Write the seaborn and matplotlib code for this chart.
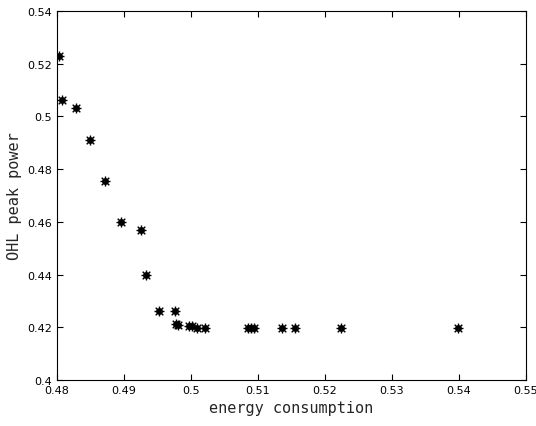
import numpy as np
import pandas as pd
import matplotlib
matplotlib.use("Agg")
import matplotlib.pyplot as plt
import seaborn as sns

# values
energy = [0.4803, 0.4807, 0.4828, 0.4849, 0.4872, 0.4896, 0.4926, 0.4933,
          0.4952, 0.4976, 0.4978, 0.4980, 0.4997, 0.5001, 0.5009, 0.5021,
          0.5085, 0.5090, 0.5094, 0.5136, 0.5155, 0.5224, 0.5399]
peak = [0.5228, 0.5063, 0.5033, 0.4910, 0.4754, 0.4601, 0.4570, 0.4398,
        0.4260, 0.4260, 0.4214, 0.4208, 0.4205, 0.4204, 0.4199, 0.4198,
        0.4196, 0.4196, 0.4196, 0.4196, 0.4196, 0.4196, 0.4196]
xticks = [0.48, 0.49, 0.5, 0.51, 0.52, 0.53, 0.54, 0.55]
yticks = [0.4, 0.42, 0.44, 0.46, 0.48, 0.5, 0.52, 0.54]

df = pd.DataFrame({"energy": energy, "peak": peak})

sns.set_style("ticks")
fig = plt.figure(figsize=(5.36, 4.27), dpi=100)
ax = fig.add_axes([0.1063, 0.1077, 0.875, 0.8642])

# matlab-ish '*' markers: a round blob with short spikes
sns.scatterplot(data=df, x="energy", y="peak", ax=ax, color="black",
                marker="o", s=20, edgecolor="black", linewidth=0.4, zorder=3)
ax.scatter(df["energy"], df["peak"], marker="+", s=42, color="black",
           linewidths=1.0, zorder=3)
ax.scatter(df["energy"], df["peak"], marker="x", s=30, color="black",
           linewidths=1.0, zorder=3)

ax.set_xlim(0.48, 0.55)
ax.set_ylim(0.4, 0.54)
ax.set_xticks(xticks)
ax.set_yticks(yticks)
ax.set_xticklabels([f"{t:g}" for t in xticks])
ax.set_yticklabels([f"{t:g}" for t in yticks])
ax.tick_params(direction="in", top=True, right=True, length=4, width=0.8,
               labelsize=8, colors="black")
for s in ax.spines.values():
    s.set_visible(True)
    s.set_color("black")
    s.set_linewidth(0.8)

ax.set_xlabel("energy consumption", family="DejaVu Sans Mono", fontsize=11)
ax.set_ylabel("OHL peak power", family="DejaVu Sans Mono", fontsize=11)

fig.savefig("out.png", dpi=100, facecolor="white")
